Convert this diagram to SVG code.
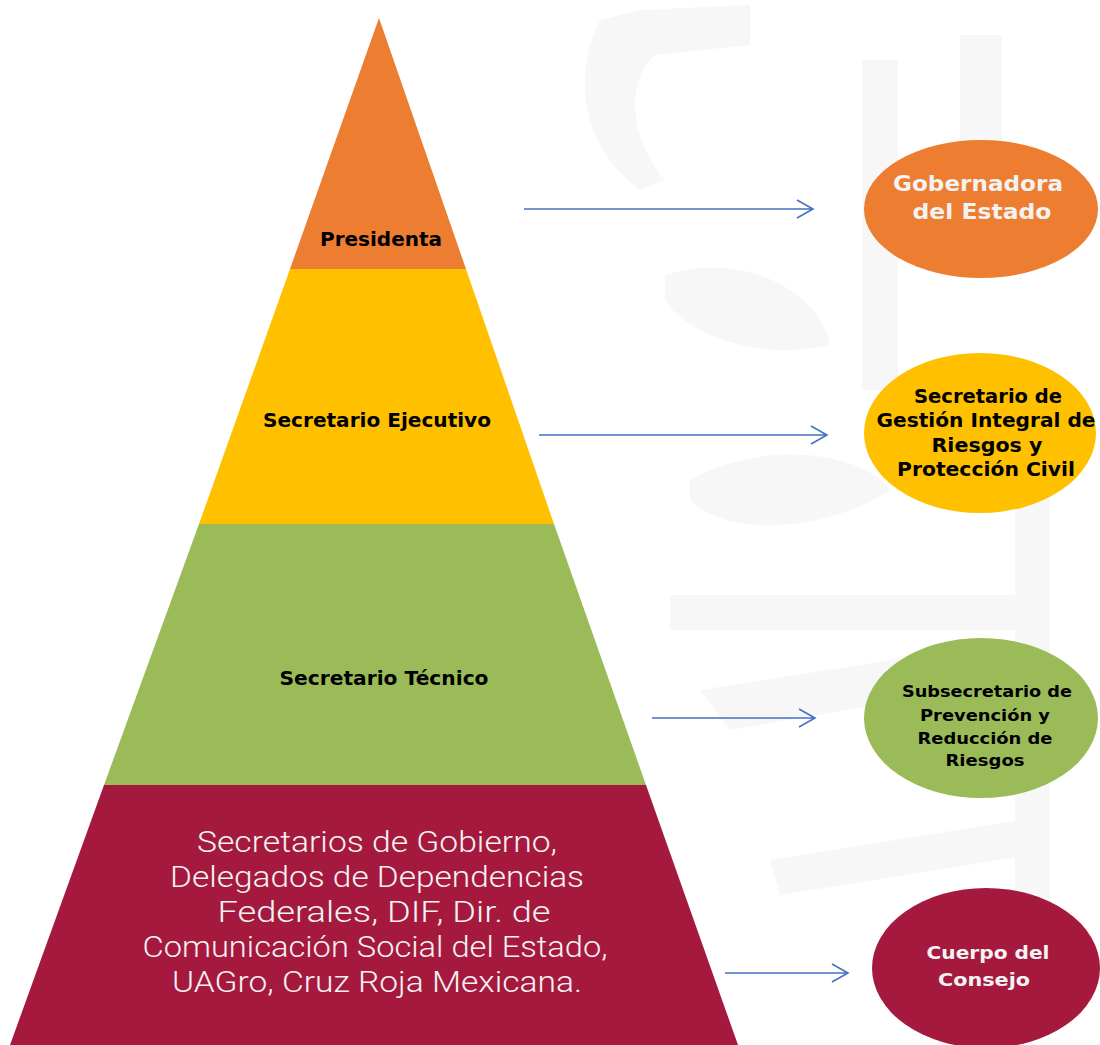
<svg xmlns="http://www.w3.org/2000/svg" width="1100" height="1045" viewBox="0 0 1100 1045">
<defs>
<style>
.wm{fill:#f7f7f7}
.lbl{font-family:"DejaVu Sans",Verdana,sans-serif;font-weight:bold;text-anchor:middle;fill:#000}
.wh{fill:#f2f2f2}
.lt{font-family:Roboto,"Liberation Sans",sans-serif;font-weight:300;text-anchor:middle;fill:#f2f2f2;font-size:30px}
.ar{stroke:#4472C4;stroke-width:1.6;fill:none}
</style>
</defs>
<rect width="1100" height="1045" fill="#fff"/>
<g id="watermark">
<path class="wm" d="M600 20 C570 80 585 150 640 190 L665 180 C630 140 625 80 655 55 L750 45 L750 5 L640 10 Z"/>
<rect class="wm" x="862" y="60" width="36" height="330"/>
<rect class="wm" x="960" y="35" width="42" height="110"/>
<path class="wm" d="M665 275 C740 250 820 290 830 345 C770 360 690 340 665 300 Z"/>
<path class="wm" d="M690 480 C760 440 860 450 890 490 C830 530 730 540 690 500 Z"/>
<rect class="wm" x="670" y="595" width="350" height="35"/>
<rect class="wm" x="1015" y="380" width="35" height="560"/>
<path class="wm" d="M700 690 L1020 640 L1020 680 L730 730 Z"/>
<path class="wm" d="M770 860 L1020 820 L1030 855 L780 895 Z"/>
</g>
<g id="connectors">
<path class="ar" d="M524 209 H813 M797 200 L813 209 L797 218"/>
<path class="ar" d="M539 435 H827 M811 426 L827 435 L811 444"/>
<path class="ar" d="M652 718 H815 M799 709 L815 718 L799 727"/>
<path class="ar" d="M725 973 H848 M832 964 L848 973 L832 982"/>
</g>
<g id="level-presidenta">
<polygon points="379,18 466,269 290,269" fill="#ED7D31"/>
<text class="lbl" x="381" y="246" font-size="20" textLength="122" lengthAdjust="spacingAndGlyphs">Presidenta</text>
</g>
<g id="level-ejecutivo">
<polygon points="290,269 466,269 554,524 199,524" fill="#FFC000"/>
<text class="lbl" x="377" y="427" font-size="20" textLength="228" lengthAdjust="spacingAndGlyphs">Secretario Ejecutivo</text>
</g>
<g id="level-tecnico">
<polygon points="199,524 554,524 646,785 104,785" fill="#9BBB59"/>
<text class="lbl" x="384" y="685" font-size="20" textLength="209" lengthAdjust="spacingAndGlyphs">Secretario Técnico</text>
</g>
<g id="level-consejo">
<polygon points="104,785 646,785 738,1045 10,1045" fill="#A6193F"/>
<text class="lt" x="377" y="852" textLength="360" lengthAdjust="spacingAndGlyphs">Secretarios de Gobierno,</text>
<text class="lt" x="377" y="887" textLength="414" lengthAdjust="spacingAndGlyphs">Delegados de Dependencias</text>
<text class="lt" x="384" y="922" textLength="333" lengthAdjust="spacingAndGlyphs">Federales, DIF, Dir. de</text>
<text class="lt" x="375" y="957" textLength="465" lengthAdjust="spacingAndGlyphs">Comunicación Social del Estado,</text>
<text class="lt" x="377" y="992" textLength="410" lengthAdjust="spacingAndGlyphs">UAGro, Cruz Roja Mexicana.</text>
</g>
<g id="node-gobernadora">
<ellipse cx="981" cy="209" rx="117" ry="69" fill="#ED7D31"/>
<text class="lbl wh" x="978" y="191" font-size="22" textLength="170" lengthAdjust="spacingAndGlyphs">Gobernadora</text>
<text class="lbl wh" x="982" y="219" font-size="22" textLength="139" lengthAdjust="spacingAndGlyphs">del Estado</text>
</g>
<g id="node-gestion">
<ellipse cx="980" cy="433" rx="116" ry="80" fill="#FFC000"/>
<text class="lbl" x="988" y="403" font-size="19" textLength="148" lengthAdjust="spacingAndGlyphs">Secretario de</text>
<text class="lbl" x="986" y="427" font-size="19" textLength="219" lengthAdjust="spacingAndGlyphs">Gestión Integral de</text>
<text class="lbl" x="987" y="452" font-size="19" textLength="111" lengthAdjust="spacingAndGlyphs">Riesgos y</text>
<text class="lbl" x="986" y="476" font-size="19" textLength="178" lengthAdjust="spacingAndGlyphs">Protección Civil</text>
</g>
<g id="node-subsecretario">
<ellipse cx="981" cy="718" rx="117" ry="80" fill="#9BBB59"/>
<text class="lbl" x="987" y="697" font-size="16" textLength="170" lengthAdjust="spacingAndGlyphs">Subsecretario de</text>
<text class="lbl" x="985" y="721" font-size="16" textLength="130" lengthAdjust="spacingAndGlyphs">Prevención y</text>
<text class="lbl" x="985" y="744" font-size="16" textLength="135" lengthAdjust="spacingAndGlyphs">Reducción de</text>
<text class="lbl" x="985" y="766" font-size="16" textLength="79" lengthAdjust="spacingAndGlyphs">Riesgos</text>
</g>
<g id="node-cuerpo">
<ellipse cx="986" cy="968" rx="114" ry="80" fill="#A6193F"/>
<text class="lbl wh" x="988" y="959" font-size="18" textLength="123" lengthAdjust="spacingAndGlyphs">Cuerpo del</text>
<text class="lbl wh" x="984" y="986" font-size="18" textLength="92" lengthAdjust="spacingAndGlyphs">Consejo</text>
</g>
</svg>
